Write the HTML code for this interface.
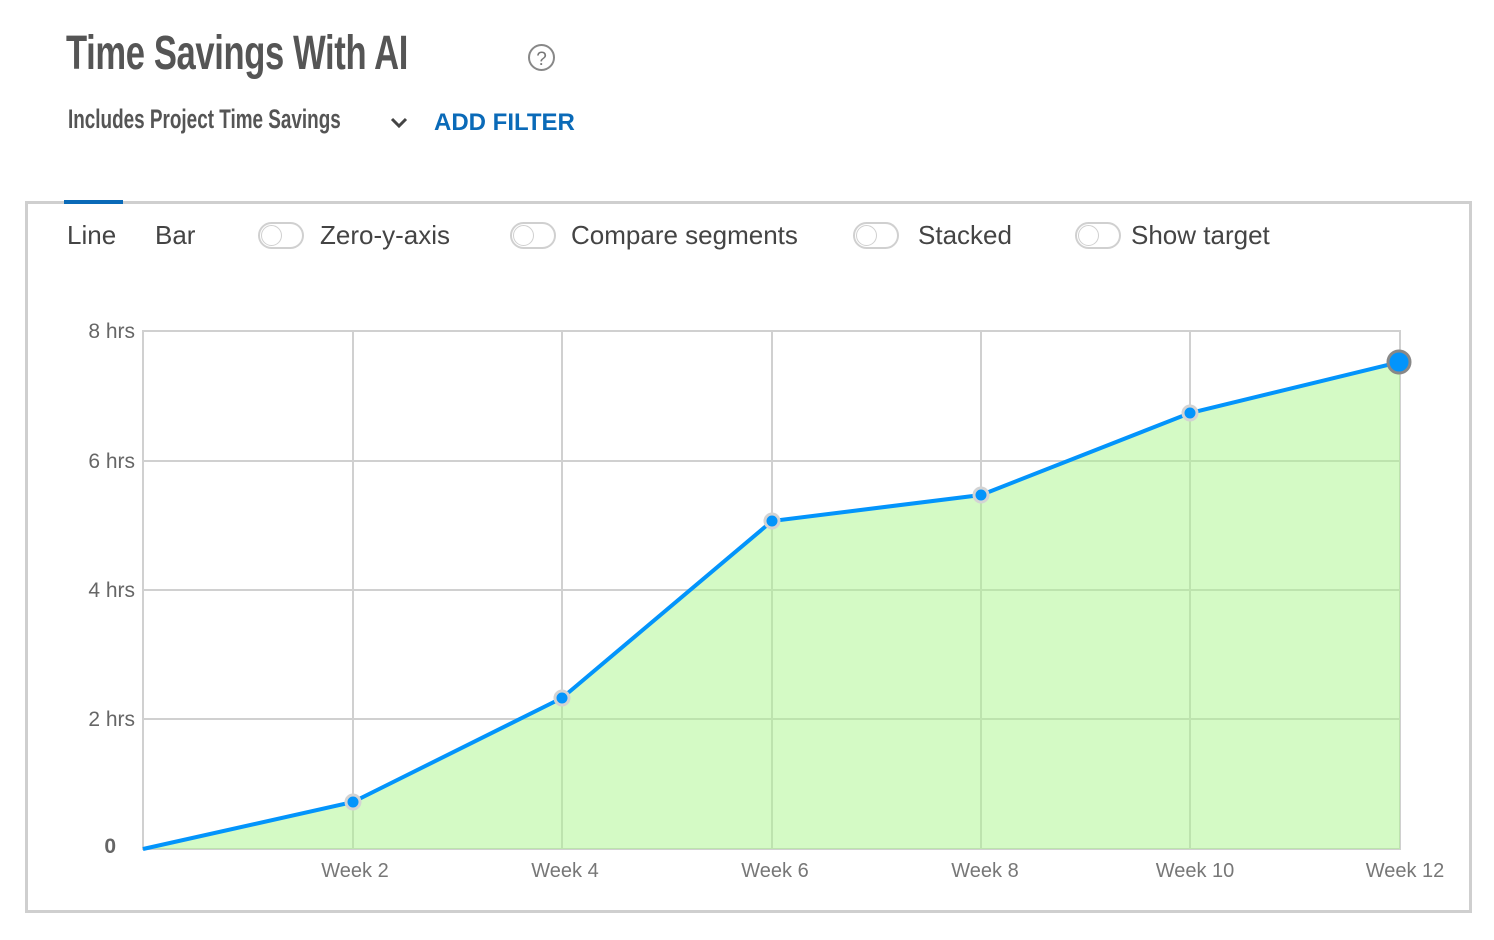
<!DOCTYPE html>
<html><head><style>
body{margin:0;width:1494px;height:940px;background:#fff;position:relative;font-family:"Liberation Sans",sans-serif;overflow:hidden}
.t{position:absolute;white-space:nowrap}
.title{left:66px;top:26px;font-size:48px;font-weight:bold;color:#555;transform:scaleX(0.72);transform-origin:left top;letter-spacing:-0.5px}
.sub{left:68px;top:104px;font-size:27px;font-weight:bold;color:#555;transform:scaleX(0.70);transform-origin:left top}
.add{left:434px;top:109px;font-size:24px;font-weight:bold;color:#0a6ab8}
.box{position:absolute;left:25px;top:201px;width:1441px;height:706px;border:3px solid #cfcfcf}
.tab{position:absolute;left:64px;top:200px;width:59px;height:4px;background:#0a6ab8}
.opt{font-size:26px;color:#444;top:220px}
.tg{position:absolute;width:46px;height:27px;border:2px solid #d0d0d0;border-radius:15px;top:222px;box-sizing:border-box}
.tg:after{content:"";position:absolute;left:1px;top:1px;width:21px;height:21px;border:1px solid #d0d0d0;border-radius:50%;box-sizing:border-box}
</style></head><body>
<div class="t title">Time Savings With AI</div>
<svg class="t" style="left:526px;top:42px" width="32" height="32"><circle cx="15.5" cy="15.5" r="12.5" fill="none" stroke="#888" stroke-width="2"/><text x="15.5" y="23" font-size="19" text-anchor="middle" fill="#777" font-family="Liberation Sans">?</text></svg>
<div class="t sub">Includes Project Time Savings</div>
<svg class="t" style="left:389px;top:115px" width="20" height="16"><path d="M3 4 L10 11 L17 4" fill="none" stroke="#444" stroke-width="3"/></svg>
<div class="t add">ADD FILTER</div>
<div class="box"></div>
<div class="tab"></div>
<div class="t opt" style="left:67px">Line</div>
<div class="t opt" style="left:155px">Bar</div>
<div class="tg" style="left:258px"></div><div class="t opt" style="left:320px">Zero-y-axis</div>
<div class="tg" style="left:510px"></div><div class="t opt" style="left:571px">Compare segments</div>
<div class="tg" style="left:853px"></div><div class="t opt" style="left:918px">Stacked</div>
<div class="tg" style="left:1075px"></div><div class="t opt" style="left:1131px">Show target</div>
<svg class="t" style="left:0;top:0" width="1494" height="940" font-family="Liberation Sans">
<g stroke="#d0d0d0" stroke-width="2" fill="none">
<rect x="143" y="331" width="1257" height="518"/>
<line x1="143" y1="461" x2="1400" y2="461"/><line x1="143" y1="590" x2="1400" y2="590"/><line x1="143" y1="719" x2="1400" y2="719"/>
<line x1="353" y1="331" x2="353" y2="849"/><line x1="562" y1="331" x2="562" y2="849"/><line x1="772" y1="331" x2="772" y2="849"/><line x1="981" y1="331" x2="981" y2="849"/><line x1="1190" y1="331" x2="1190" y2="849"/>
</g>
<polygon points="143,849 353,802 562,698 772,521 981,495 1190,413 1400,362 1400,849" fill="rgba(170,245,140,0.5)"/>
<polyline points="143,849 353,802 562,698 772,521 981,495 1190,413 1400,362" fill="none" stroke="#0394fb" stroke-width="4"/>
<g fill="#0394fb" stroke="#d3d3d3" stroke-width="3">
<circle cx="353" cy="802" r="7"/><circle cx="562" cy="698" r="7"/><circle cx="772" cy="521" r="7"/><circle cx="981" cy="495" r="7"/><circle cx="1190" cy="413" r="7"/>
</g>
<circle cx="1399" cy="362" r="11" fill="#0394fb" stroke="#888" stroke-width="3"/>
<g font-size="21" fill="#666" text-anchor="end">
<text x="135" y="338">8 hrs</text><text x="135" y="468">6 hrs</text><text x="135" y="597">4 hrs</text><text x="135" y="726">2 hrs</text><text x="116" y="853" font-weight="bold">0</text>
</g>
<g font-size="20" fill="#777" text-anchor="middle">
<text x="355" y="877">Week 2</text><text x="565" y="877">Week 4</text><text x="775" y="877">Week 6</text><text x="985" y="877">Week 8</text><text x="1195" y="877">Week 10</text><text x="1405" y="877">Week 12</text>
</g>
</svg>
</body></html>
